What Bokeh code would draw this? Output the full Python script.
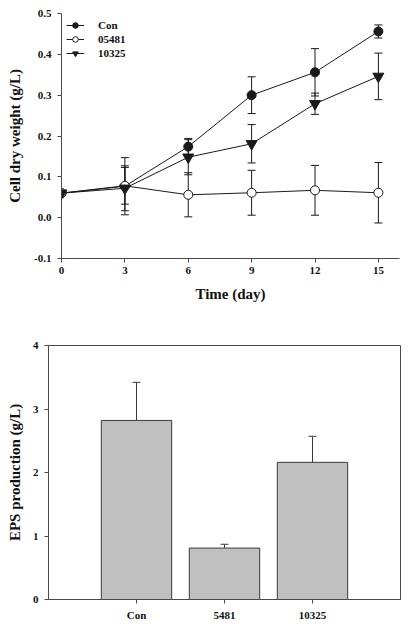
from bokeh.plotting import figure
from bokeh.models import (ColumnDataSource, Whisker, TeeHead, FixedTicker,
                          FactorRange, Legend, LegendItem)
from bokeh.layouts import column, row
from bokeh.embed import file_html
from bokeh.resources import INLINE

# ---- data: top chart (cell dry weight, g/L) ----
days = [0, 3, 6, 9, 12, 15]
con = [0.060, 0.077, 0.174, 0.300, 0.356, 0.456]
con_err = [0.003, 0.070, 0.020, 0.045, 0.058, 0.016]
s05481 = [0.060, 0.078, 0.056, 0.061, 0.067, 0.061]
s05481_err = [0.003, 0.045, 0.054, 0.055, 0.061, 0.074]
s10325 = [0.060, 0.072, 0.148, 0.181, 0.279, 0.346]
s10325_err = [0.003, 0.055, 0.043, 0.047, 0.026, 0.057]
y1_ticks = [-0.1, 0.0, 0.1, 0.2, 0.3, 0.4, 0.5]

# ---- data: bottom chart (EPS production, g/L) ----
strains = ["Con", "5481", "10325"]
eps = [2.82, 0.81, 2.16]
eps_err = [0.60, 0.06, 0.41]
y2_ticks = [0, 1, 2, 3, 4]

FONT = "Liberation Serif"
AX = "#4a4a4a"
LN = "#1a1a1a"


def style_axes(p, tick_font="11px"):
    for ax in (p.xaxis[0], p.yaxis[0]):
        ax.axis_line_color = AX
        ax.major_tick_line_color = AX
        ax.major_tick_in = 0
        ax.major_tick_out = 4
        ax.minor_tick_line_color = None
        ax.major_label_text_font = FONT
        ax.major_label_text_font_style = "bold"
        ax.major_label_text_font_size = tick_font
        ax.major_label_text_color = "#111111"
        ax.axis_label_text_font = FONT
        ax.axis_label_text_font_style = "bold"
        ax.axis_label_text_font_size = "15px"
        ax.axis_label_text_color = "#111111"
    p.xgrid.grid_line_color = None
    p.ygrid.grid_line_color = None


# ================= top chart =================
p1 = figure(width=407, height=308, x_range=(0, 16), y_range=(-0.1, 0.5),
            output_backend="svg", toolbar_location=None,
            min_border_left=61, min_border_right=8,
            min_border_top=13, min_border_bottom=50)
p1.outline_line_color = None
style_axes(p1)
p1.xaxis.ticker = FixedTicker(ticks=days)
p1.yaxis.ticker = FixedTicker(ticks=y1_ticks)
p1.yaxis.major_label_overrides = {t: ("%.1f" % t) for t in y1_ticks}
p1.xaxis.axis_label = "Time (day)"
p1.yaxis.axis_label = "Cell dry weight (g/L)"
p1.xaxis.major_label_standoff = 4
p1.xaxis.axis_label_standoff = 9
p1.yaxis.major_label_standoff = 6
p1.yaxis.axis_label_standoff = 8

series = [
    ("Con", con, con_err, "circle", LN, 9),
    ("05481", s05481, s05481_err, "circle", "white", 9),
    ("10325", s10325, s10325_err, "inverted_triangle", LN, 11),
]
items = []
for name, vals, errs, marker, fill, size in series:
    src = ColumnDataSource(dict(
        x=days, y=vals,
        lo=[v - e for v, e in zip(vals, errs)],
        hi=[v + e for v, e in zip(vals, errs)]))
    w = Whisker(source=src, base="x", lower="lo", upper="hi",
                line_color=LN, line_width=1,
                upper_head=TeeHead(size=8, line_color=LN, line_width=1),
                lower_head=TeeHead(size=8, line_color=LN, line_width=1))
    p1.add_layout(w)
    l = p1.line("x", "y", source=src, line_color=LN, line_width=1)
    s = p1.scatter("x", "y", source=src, marker=marker, size=size,
                   fill_color=fill, line_color=LN, line_width=1)
    items.append(LegendItem(label=name, renderers=[l, s]))

leg = Legend(items=items, location="top_left")
leg.background_fill_alpha = 0
leg.border_line_color = None
leg.label_text_font = FONT
leg.label_text_font_style = "bold"
leg.label_text_font_size = "11px"
leg.label_text_color = "#111111"
leg.glyph_width = 18
leg.glyph_height = 14
leg.label_height = 14
leg.spacing = 0
leg.padding = 2
leg.margin = 5
leg.label_standoff = 14
p1.add_layout(leg)

# ================= bottom chart =================
p2 = figure(width=407, height=320,
            x_range=FactorRange(factors=strains, range_padding=0.5,
                                range_padding_units="absolute"),
            y_range=(0, 4),
            output_backend="svg", toolbar_location=None,
            min_border_left=48, min_border_right=7,
            min_border_top=37, min_border_bottom=29)
p2.outline_line_color = AX
p2.outline_line_width = 1
style_axes(p2)
p2.yaxis.ticker = FixedTicker(ticks=y2_ticks)
p2.yaxis.axis_label = "EPS production (g/L)"
p2.xaxis.major_label_standoff = 5
p2.yaxis.major_label_standoff = 6
p2.yaxis.axis_label_standoff = 7

src2 = ColumnDataSource(dict(x=strains, top=eps,
                             hi=[v + e for v, e in zip(eps, eps_err)]))
p2.vbar(x="x", top="top", bottom=0, width=0.8, source=src2,
        fill_color="#c0c0c0", line_color="#3a3a3a", line_width=1)
w2 = Whisker(source=src2, base="x", lower="top", upper="hi",
             line_color="#3a3a3a", line_width=1, lower_head=None,
             upper_head=TeeHead(size=8, line_color="#3a3a3a", line_width=1))
p2.add_layout(w2)

layout = column(row(p1), row(p2))
open("out.html", "w").write(file_html(layout, INLINE))
